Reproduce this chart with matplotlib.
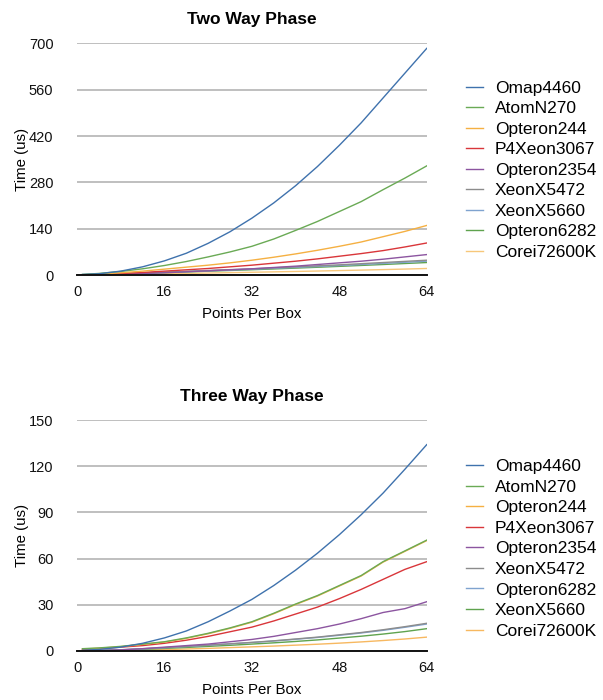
import matplotlib
matplotlib.use("Agg")
import matplotlib.pyplot as plt

plt.rcParams['font.family'] = ['Liberation Sans', 'DejaVu Sans']

x = [1, 4, 8, 12, 16, 20, 24, 28, 32, 36, 40, 44, 48, 52, 56, 60, 64]

# Two Way Phase
two_names = ['Omap4460', 'AtomN270', 'Opteron244', 'P4Xeon3067', 'Opteron2354',
             'XeonX5472', 'XeonX5660', 'Opteron6282', 'Corei72600K']
two_colors = ['#3f72ad', '#6aaa55', '#f5b042', '#d9363a', '#8c55a0',
              '#8c8c8c', '#7fa3cf', '#5fa34e', '#f7c77a']
two_omap = [2, 4, 12, 25, 43, 66, 96, 131, 172, 218, 270, 328, 392, 460, 535, 610, 685]
two_atom = [2, 5, 11, 19, 29, 41, 55, 70, 87, 109, 135, 162, 192, 222, 258, 293, 330]
two_opt244 = [1, 3, 7, 12, 18, 24, 30, 37, 45, 54, 64, 75, 87, 100, 116, 132, 150]
two_p4 = [1, 2, 5, 8, 12, 16, 20, 25, 30, 36, 42, 49, 57, 65, 74, 85, 97]
two_opt2354 = [0.5, 1, 3, 5, 7, 10, 13, 16, 19, 23, 27, 32, 37, 42, 48, 55, 62]
two_x5472 = [1, 2, 4, 6.5, 9, 11.5, 14, 16.5, 19, 22, 25, 28, 31, 34.5, 38, 41.5, 45]
two_x5660 = [1, 2, 3.8, 6, 8.3, 10.6, 13, 15.4, 17.8, 20.5, 23.2, 26, 29, 32, 35.3, 38.6, 42]
two_opt6282 = [1, 1.8, 3.5, 5.5, 7.5, 9.6, 11.8, 14, 16.2, 18.6, 21.1, 23.7, 26.4, 29.2, 32, 35, 38]
two_corei = [0.5, 1, 2, 3, 4, 5, 6.2, 7.4, 8.6, 9.8, 11, 12.3, 13.7, 15.1, 16.6, 18.2, 20]

# Three Way Phase
three_names = ['Omap4460', 'AtomN270', 'Opteron244', 'P4Xeon3067', 'Opteron2354',
               'XeonX5472', 'Opteron6282', 'XeonX5660', 'Corei72600K']
three_colors = ['#3f72ad', '#6aaa55', '#f5b042', '#d9363a', '#8c55a0',
                '#8c8c8c', '#7fa3cf', '#5fa34e', '#f7b860']
three_omap = [0.5, 1, 2.5, 5, 8.5, 13, 19, 26, 33.5, 42.5, 52.5, 63.5, 75.5, 88.5, 102.5, 118, 134]
three_atom = [1.5, 2, 3, 4.5, 6, 8.5, 11.5, 15, 19, 24.5, 30.5, 36, 42.5, 49, 58, 65, 72]
three_opt244 = [1.3, 1.8, 2.8, 4.3, 5.8, 8.2, 11.2, 14.7, 18.7, 24.2, 30.2, 35.7, 42.2, 48.7, 57.7, 64.7, 71.7]
three_p4 = [1, 1.5, 2.5, 3.5, 5, 7, 9.5, 12.5, 15.5, 19.5, 24, 28.5, 34, 40, 46.5, 53, 58]
three_opt2354 = [0, 0.3, 0.7, 1.5, 2.5, 3.5, 4.5, 6, 7.5, 9.5, 12, 14.5, 17.5, 21, 25, 27.5, 32]
three_x5472 = [0, 0.3, 0.8, 1.5, 2.2, 3, 3.8, 4.7, 5.6, 6.6, 7.8, 9, 10.5, 12, 13.8, 15.8, 18]
three_opt6282 = [0, 0.3, 0.8, 1.4, 2.1, 2.9, 3.7, 4.6, 5.5, 6.5, 7.6, 8.8, 10.2, 11.7, 13.4, 15.4, 17.5]
three_x5660 = [0, 0.2, 0.6, 1.1, 1.7, 2.3, 3, 3.7, 4.5, 5.3, 6.2, 7.2, 8.4, 9.6, 11, 12.6, 14.5]
three_corei = [0, 0.1, 0.3, 0.6, 0.9, 1.3, 1.7, 2.2, 2.7, 3.2, 3.8, 4.4, 5.1, 5.9, 6.8, 7.8, 9]

two_series = [two_omap, two_atom, two_opt244, two_p4, two_opt2354,
              two_x5472, two_x5660, two_opt6282, two_corei]
three_series = [three_omap, three_atom, three_opt244, three_p4, three_opt2354,
                three_x5472, three_opt6282, three_x5660, three_corei]


def draw(ax, title, series, names, colors, yticks, legend_y):
    lines = []
    for s, n, c in zip(series, names, colors):
        l, = ax.plot(x, s, color=c, lw=1.0, label=n)
        lines.append(l)
    # first series on top
    for i, l in enumerate(lines):
        l.set_zorder(3 + len(lines) - i)
    ax.set_xlim(0, 64)
    ax.set_ylim(0, yticks[-1])
    ax.set_xticks([0, 16, 32, 48, 64])
    ax.set_yticks(yticks)
    ax.yaxis.grid(True, color='#b4b4b4', lw=1.2)
    ax.set_axisbelow(True)
    for sp in ['top', 'right', 'left']:
        ax.spines[sp].set_visible(False)
    ax.spines['bottom'].set_color('#111111')
    ax.spines['bottom'].set_linewidth(1.4)
    ax.spines['bottom'].set_zorder(20)
    ax.tick_params(length=0, labelsize=10.5, colors='#111111')
    ax.tick_params(axis='y', pad=17)
    ax.tick_params(axis='x', pad=7)
    ax.set_xlabel('Points Per Box', fontsize=10.8, labelpad=6)
    ax.set_ylabel('Time (us)', fontsize=10.8, labelpad=0)
    ax.set_title(title, fontsize=12.5, fontweight='bold', pad=14)
    fig.legend(handles=lines, loc='upper left', bbox_to_anchor=(0.773, legend_y),
               frameon=False, fontsize=12.5, handlelength=0.95, handletextpad=0.7,
               labelspacing=0.31, borderpad=0, borderaxespad=0)


fig = plt.figure(figsize=(6.03, 7.00), dpi=100)
ax1 = fig.add_axes([0.1277, 0.607, 0.580, 0.331])
ax2 = fig.add_axes([0.1277, 0.070, 0.580, 0.330])

draw(ax1, 'Two Way Phase', two_series, two_names, two_colors,
     [0, 140, 280, 420, 560, 700], 0.885)
draw(ax2, 'Three Way Phase', three_series, three_names, three_colors,
     [0, 30, 60, 90, 120, 150], 0.344)

fig.savefig('out.png', dpi=100)
